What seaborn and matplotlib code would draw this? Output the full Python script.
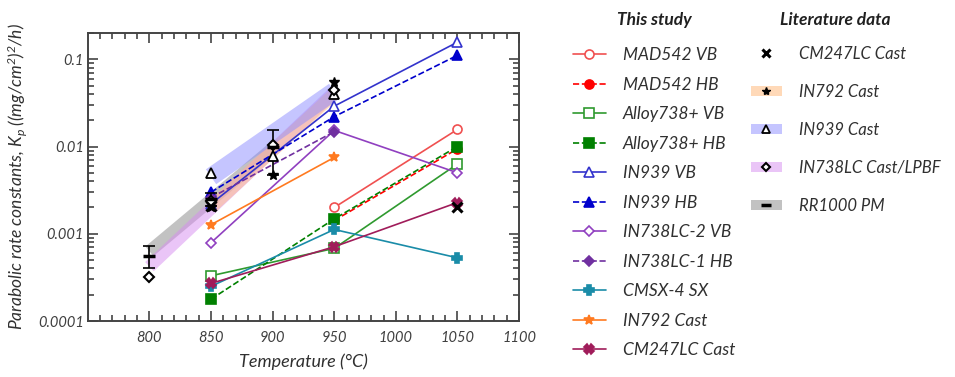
import matplotlib
matplotlib.use("Agg")
import matplotlib.pyplot as plt
from matplotlib.lines import Line2D
from matplotlib.patches import Patch
import seaborn as sns

# This study - parabolic rate constants (mg^2 cm^-4 h^-1)
t_mad542_vb = [950, 1050]
kp_mad542_vb = [0.0020, 0.0157]
t_mad542_hb = [950, 1050]
kp_mad542_hb = [0.00142, 0.0094]
t_alloy738_vb = [850, 950, 1050]
kp_alloy738_vb = [0.00033, 0.00068, 0.0063]
t_alloy738_hb = [850, 950, 1050]
kp_alloy738_hb = [0.000178, 0.00148, 0.0100]
t_in939_vb = [850, 950, 1050]
kp_in939_vb = [0.0022, 0.029, 0.157]
t_in939_hb = [850, 950, 1050]
kp_in939_hb = [0.0030, 0.022, 0.111]
t_in738_2_vb = [850, 950, 1050]
kp_in738_2_vb = [0.00079, 0.0153, 0.0050]
t_in738_1_hb = [850, 950]
kp_in738_1_hb = [0.0026, 0.0148]
t_cmsx4 = [850, 950, 1050]
kp_cmsx4 = [0.00025, 0.00112, 0.00053]
t_in792 = [850, 950]
kp_in792 = [0.00127, 0.0075]
t_cm247 = [850, 950, 1050]
kp_cm247 = [0.00027, 0.00071, 0.00228]

# Literature data points
t_lit_cm247 = [850, 1050]
kp_lit_cm247 = [0.0021, 0.0020]
t_lit_in792 = [850, 900, 950]
kp_lit_in792 = [0.0020, 0.0047, 0.055]
t_lit_in939 = [850, 900, 950]
kp_lit_in939 = [0.0050, 0.0078, 0.040]
t_lit_in738 = [800, 850, 900, 950]
kp_lit_in738 = [0.00032, 0.0024, 0.0105, 0.045]
t_lit_rr1000 = [800, 850, 900]
kp_lit_rr1000 = [0.00055, 0.0025, 0.0100]
kp_lit_rr1000_lo = [0.00040, 0.0021, 0.0047]
kp_lit_rr1000_hi = [0.00072, 0.0029, 0.0155]

# Literature trend bands (centre line)
t_band_in939 = [850, 950]
kp_band_in939 = [0.0045, 0.043]
t_band_rr1000 = [800, 900]
kp_band_rr1000 = [0.00063, 0.0095]
t_band_in738 = [800, 950]
kp_band_in738 = [0.00042, 0.042]
t_band_in792 = [850, 950]
kp_band_in792 = [0.0020, 0.040]

study_labels = ["MAD542 VB", "MAD542 HB", "Alloy738+ VB", "Alloy738+ HB", "IN939 VB",
                "IN939 HB", "IN738LC-2 VB", "IN738LC-1 HB", "CMSX-4 SX", "IN792 Cast",
                "CM247LC Cast"]
lit_labels = ["CM247LC Cast", "IN792 Cast", "IN939 Cast", "IN738LC Cast/LPBF", "RR1000 PM"]

sns.set_style("ticks")
plt.rcParams["font.family"] = ["Lato", "DejaVu Sans"]
plt.rcParams["font.style"] = "italic"
plt.rcParams["mathtext.fontset"] = "custom"
plt.rcParams["mathtext.rm"] = "Lato:italic"
plt.rcParams["mathtext.it"] = "Lato:italic"

fig = plt.figure(figsize=(9.55, 3.77), dpi=100)
ax = fig.add_axes([0.092, 0.1485, 0.4515, 0.764])

# bands
bands = [
    (t_band_rr1000, kp_band_rr1000, "#9a9a9a", 0.6, 9),
    (t_band_in738, kp_band_in738, "#d68cf0", 0.5, 9),
    (t_band_in792, kp_band_in792, "#ffc08a", 0.55, 9),
    (t_band_in939, kp_band_in939, "#8c8cff", 0.5, 13),
]
for tx, ky, col, al, lw in bands:
    ax.plot(tx, ky, color=col, alpha=al, lw=lw, solid_capstyle="butt", zorder=1)

series = [
    (t_mad542_vb, kp_mad542_vb, "#f05050", "-", "o", "white", 6.5),
    (t_mad542_hb, kp_mad542_hb, "#ff0000", "--", "o", "#ff0000", 6.5),
    (t_alloy738_vb, kp_alloy738_vb, "#2f9a2f", "-", "s", "white", 7),
    (t_alloy738_hb, kp_alloy738_hb, "#008000", "--", "s", "#008000", 6.5),
    (t_in939_vb, kp_in939_vb, "#3333cc", "-", "^", "white", 7.5),
    (t_in939_hb, kp_in939_hb, "#0000cc", "--", "^", "#0000cc", 6.5),
    (t_in738_2_vb, kp_in738_2_vb, "#9040c0", "-", "D", "white", 5.5),
    (t_in738_1_hb, kp_in738_1_hb, "#7030a0", "--", "D", "#7030a0", 5),
    (t_cmsx4, kp_cmsx4, "#1a8ca8", "-", "P", "#1a8ca8", 6.5),
    (t_in792, kp_in792, "#ff7a20", "-", "*", "#ff7a20", 7.5),
    (t_cm247, kp_cm247, "#a01c5a", "-", "X", "#a01c5a", 7),
]
study_handles = []
for tx, ky, col, ls, mk, mfc, ms in series:
    sns.lineplot(x=tx, y=ky, ax=ax, color=col, linestyle=ls, lw=1.2, marker=mk,
                 markersize=ms, markerfacecolor=mfc, markeredgecolor=col,
                 markeredgewidth=1.2, sort=False, errorbar=None, zorder=3)
    study_handles.append(Line2D([], [], color=col, ls=ls, lw=1.2, marker=mk, markersize=ms,
                                markerfacecolor=mfc, markeredgecolor=col, markeredgewidth=1.2))

# literature markers
rr_err = [[k - lo for k, lo in zip(kp_lit_rr1000, kp_lit_rr1000_lo)],
          [hi - k for k, hi in zip(kp_lit_rr1000, kp_lit_rr1000_hi)]]
ax.errorbar(t_lit_rr1000, kp_lit_rr1000, yerr=rr_err, fmt="none", ecolor="black",
            elinewidth=1.2, capsize=4, capthick=1.2, zorder=4)
lit_styles = [
    (t_lit_cm247, kp_lit_cm247, "x", "black", 7, 2.2),
    (t_lit_in792, kp_lit_in792, "*", "black", 7, 1.0),
    (t_lit_in939, kp_lit_in939, "^", "white", 7, 1.3),
    (t_lit_in738, kp_lit_in738, "D", "white", 5, 1.5),
    (t_lit_rr1000, kp_lit_rr1000, "_", "black", 8, 2.5),
]
band_cols = [None, ("#ffc08a", 0.6), ("#8c8cff", 0.5), ("#d68cf0", 0.5), ("#9a9a9a", 0.6)]
lit_handles = []
for (tx, ky, mk, fc, ms, mw), bc in zip(lit_styles, band_cols):
    ax.plot(tx, ky, ls="none", marker=mk, markersize=ms, markerfacecolor=fc,
            markeredgecolor="black", markeredgewidth=mw, zorder=5)
    mline = Line2D([], [], ls="none", marker=mk, markersize=ms * 0.85, markerfacecolor=fc,
                   markeredgecolor="black", markeredgewidth=mw)
    if bc is None:
        lit_handles.append(mline)
    else:
        lit_handles.append((Patch(facecolor=bc[0], alpha=bc[1], edgecolor="none"), mline))

ax.set_yscale("log")
ax.set_ylim(1e-4, 0.2)
ax.set_xlim(750, 1100)
ax.set_xticks([800, 850, 900, 950, 1000, 1050, 1100])
ax.set_xticks(range(760, 1100, 10), minor=True)
ax.set_yticks([0.0001, 0.001, 0.01, 0.1])
ax.set_yticklabels(["0.0001", "0.001", "0.01", "0.1"])
ax.tick_params(which="both", direction="in", top=True, right=True, colors="#444444",
               labelcolor="#404040", labelsize=10.5, width=1.2)
ax.tick_params(which="major", length=7)
ax.tick_params(which="minor", length=4)
ax.tick_params(axis="x", pad=7)
ax.tick_params(axis="y", pad=3)
for s in ax.spines.values():
    s.set_color("#444444")
    s.set_linewidth(1.4)

ax.set_xlabel("Temperature (°C)", fontsize=13, color="#303030", labelpad=6)
ax.set_ylabel(r"Parabolic rate constants, $K_p$ ((mg/cm$^2$)$^2$/h)", fontsize=12.5,
              color="#303030", labelpad=6)

leg1 = fig.legend(study_handles, study_labels, loc="upper left", bbox_to_anchor=(0.585, 0.912),
                  frameon=False, fontsize=12.5, labelspacing=0.78, handlelength=1.9,
                  handletextpad=1.0, borderpad=0.3)
leg2 = fig.legend(lit_handles, lit_labels, loc="upper left", bbox_to_anchor=(0.772, 0.914),
                  frameon=False, fontsize=12, labelspacing=1.32, handlelength=1.9,
                  handleheight=0.5, handletextpad=1.0, borderpad=0.3)
for leg in (leg1, leg2):
    for t in leg.get_texts():
        t.set_color("#303030")
fig.text(654 / 955, 1 - 20 / 377, "This study", ha="center", va="center", fontsize=12.5,
         fontweight="bold", color="#202020")
fig.text(835 / 955, 1 - 20 / 377, "Literature data", ha="center", va="center", fontsize=12.5,
         fontweight="bold", color="#202020")

fig.savefig("out.png", dpi=100)
